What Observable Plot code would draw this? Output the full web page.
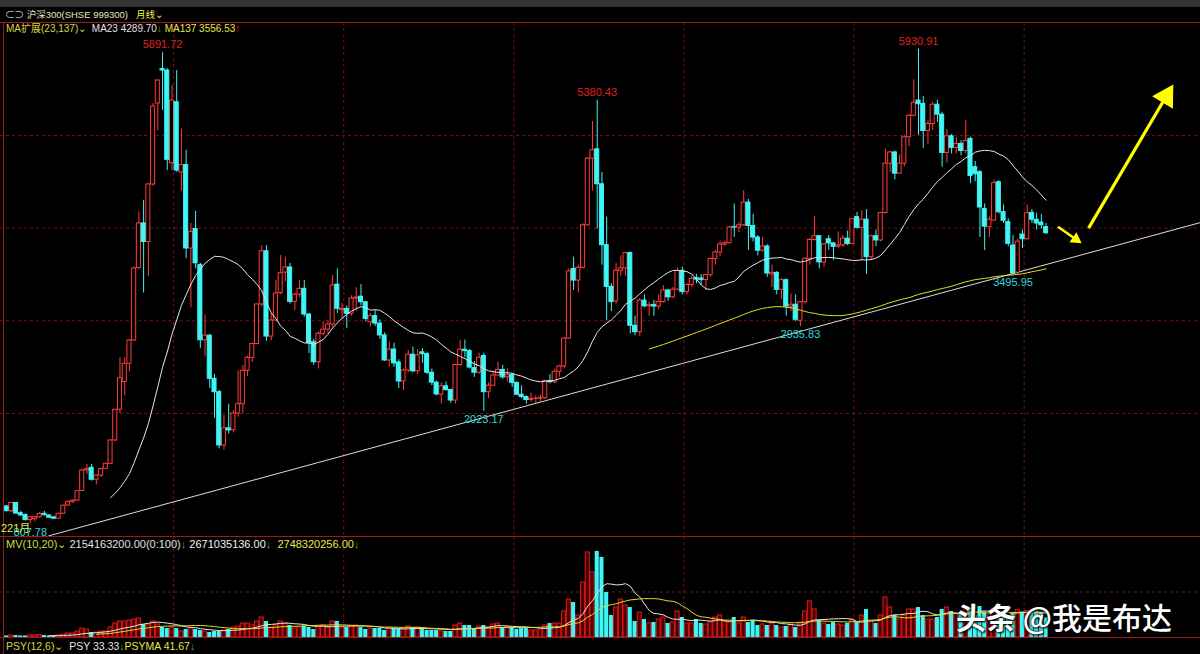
<!DOCTYPE html>
<html><head><meta charset="utf-8">
<script src="https://cdn.jsdelivr.net/npm/d3@7"></script>
<script src="https://cdn.jsdelivr.net/npm/@observablehq/plot@0.6"></script>
<style>
body{margin:0;background:#000;}
#wrap{position:relative;width:1200px;height:654px;overflow:hidden;background:#000;font-family:"Liberation Sans","Noto Sans CJK SC",sans-serif;font-size:11px;}
.abs{position:absolute;white-space:nowrap;line-height:12px;}
.plot{position:absolute;left:0;}
</style></head><body><div id="wrap"></div>
<script>
// CSI 300 monthly candles, 2005-01 .. 2023-05 (index 0 = 2005-01)
const startMonth = "2005-01";
const opens = [997,945,1035,925,905,850,860,880,918,900,880,865,
918,1007,1043,1060,1165,1385,1414,1285,1330,1403,1457,1709,
2041,2340,2536,2787,3570,4050,3850,4471,5344,5715,5700,4700,
5358,4600,4680,3780,3990,3600,2790,2840,2374,2230,1655,1840,
1820,2000,2100,2460,2600,2750,3176,3750,2830,3003,3300,3520,
3575,3204,3281,3345,3068,2769,2553,2860,2905,2960,3390,3115,
3128,3076,3240,3260,3200,2985,3050,2970,2842,2572,2690,2550,
2345,2464,2634,2455,2660,2640,2440,2333,2205,2293,2254,2140,
2523,2688,2673,2490,2440,2620,2230,2300,2410,2470,2390,2414,
2330,2203,2178,2146,2158,2160,2165,2350,2338,2450,2508,2808,
3560,3434,3572,4030,4749,4850,4473,3816,3366,3210,3540,3566,
3731,2946,2877,3218,3156,3169,3154,3203,3327,3253,3336,3538,
3310,3387,3460,3456,3439,3492,3666,3737,3822,3837,4010,4006,
4030,4275,4023,3898,3756,3802,3500,3517,3334,3438,3153,3173,
3000,3201,3669,3872,3913,3630,3880,3835,3799,3814,3886,3828,
4118,4003,4091,3686,3912,3867,4163,4695,4816,4587,4695,4980,
5211,5376,5340,5048,5123,5331,5224,4811,4990,4866,4908,4832,
4963,4657,4603,4207,4010,4082,4495,4172,4064,3812,3520,3930,
3880,4165,4090,4060,4010];
const highs = [1010,1040,1040,945,915,890,890,935,945,905,885,925,
1010,1060,1070,1170,1400,1450,1450,1340,1410,1465,1715,2045,
2600,2600,2800,3580,4175,4300,4480,5344,5600,5891.72,5720,5540,
5700,5070,4840,4050,4180,3620,3060,2850,2420,2250,1980,2100,
2030,2460,2520,2620,2760,3180,3812,3812,3079,3435,3704,3686,
3618,3300,3435,3435,3080,2800,2880,2990,3000,3489,3561,3190,
3160,3270,3359,3390,3210,3080,3111,3010,2870,2769,2760,2580,
2480,2680,2715,2690,2700,2660,2480,2350,2330,2340,2260,2530,
2790,2791,2690,2560,2650,2650,2330,2450,2553,2520,2480,2430,
2340,2300,2190,2220,2190,2200,2360,2420,2480,2520,2820,3560,
3686,3600,4046,4760,5150,5380.43,4600,4118,3400,3620,3700,3740,
3740,3050,3240,3280,3200,3220,3280,3380,3340,3360,3570,3580,
3400,3480,3500,3500,3500,3680,3760,3860,3860,4020,4260,4060,
4405,4310,4150,3920,3900,3820,3600,3530,3460,3450,3290,3280,
3210,3680,3890,4127,3920,3830,3920,3840,3960,3920,3970,4100,
4170,4190,4200,3920,3980,4170,4850,4830,4830,4790,5000,5230,
5600,5930.91,5420,5160,5360,5380,5250,5064,5010,4980,4940,5160,
4980,4720,4620,4260,4130,4520,4510,4250,4100,3920,3880,3980,
4250,4200,4160,4150,4050];
const lows = [940,930,915,890,840,807.78,830,870,895,870,855,860,
910,1000,1030,1055,1160,1340,1270,1230,1310,1395,1450,1700,
2000,2190,2450,2780,3550,3300,3480,4450,5050,5270,4621,4620,
4603,4400,3670,3140,3560,2700,2610,2270,1950,1619,1606,1780,
1790,1960,2000,2400,2550,2740,3150,2780,2787,2990,3280,3420,
3180,3111,3250,3040,2647,2520,2480,2840,2860,2930,3080,3020,
2917,3050,3100,3160,2990,2931,2940,2800,2560,2500,2500,2270,
2248,2440,2440,2420,2540,2420,2300,2190,2102,2240,2110,2102,
2510,2600,2480,2390,2420,2023.17,2160,2290,2400,2370,2340,2280,
2190,2160,2100,2120,2110,2120,2150,2320,2320,2390,2480,2800,
3327,3300,3560,4020,4400,3990,3600,3003,3100,3180,3480,3480,
2860,2840,2830,3140,3050,3050,3120,3190,3210,3240,3320,3280,
3280,3360,3400,3380,3330,3470,3600,3690,3800,3830,3900,3950,
4020,3760,3850,3700,3740,3470,3360,3280,3230,3050,3100,2990,
2935.83,3180,3600,3860,3560,3580,3760,3650,3780,3790,3810,3820,
3990,3650,3500,3650,3800,3850,4150,4600,4520,4580,4660,4880,
5200,5000,4860,4900,5050,5140,4657,4700,4800,4800,4780,4800,
4480,4500,3900,3757,3900,4070,4150,4050,3800,3495.95,3500,3780,
3870,4050,3980,3990,3930];
const closes = [946,1035,920,900,850,880,880,915,902,876,865,918,
1005,1043,1060,1162,1385,1400,1285,1330,1400,1457,1709,2040,
2380,2536,2787,3564,4050,3850,4471,5312,5592,5700,4737,5376,
4621,4680,3780,3960,3620,2790,2840,2374,2230,1655,1840,1817,
2000,2100,2460,2600,2750,3176,3750,2830,3003,3294,3513,3575,
3204,3281,3345,3068,2760,2553,2860,2905,2960,3380,3130,3128,
3076,3240,3250,3200,3020,3050,2970,2842,2572,2690,2540,2345,
2464,2634,2455,2626,2640,2440,2333,2205,2293,2254,2140,2523,
2688,2673,2496,2440,2600,2230,2300,2410,2470,2390,2414,2330,
2203,2178,2146,2158,2160,2165,2350,2338,2450,2508,2808,3533,
3434,3572,4030,4749,4840,4473,3816,3366,3202,3540,3566,3731,
2946,2877,3218,3156,3169,3154,3203,3327,3253,3336,3538,3310,
3387,3452,3445,3439,3492,3666,3737,3822,3837,4006,4006,4030,
4275,4023,3898,3756,3802,3510,3517,3334,3438,3153,3173,3011,
3201,3669,3872,3913,3630,3825,3835,3799,3814,3886,3828,4096,
4003,4091,3686,3912,3867,4163,4695,4816,4587,4695,4980,5211,
5351,5336,5048,5123,5331,5224,4811,4990,4866,4908,4832,4940,
4563,4581,4222,4016,4091,4485,4172,4079,3830,3509,3854,3880,
4160,4090,4050,4030,3945];
// monthly volume, units of 1e8 (lots)
const volumes = [1.7,2.2,2.2,1.7,1.7,2.2,2.2,2.8,2.2,1.7,1.7,2.2,
3.3,4.4,4.4,6.6,9.9,8.8,5.5,5.5,6.6,6.6,11,15.4,
17.6,17.6,18.7,19.8,20.9,14.3,13.2,17.6,14.3,11,9.9,11,
9.9,6.6,8.8,9.9,8.8,7.7,6.6,5.5,6.6,6.6,7.7,8.8,
11,12.1,15.4,15.4,13.2,17.6,22,17.6,11,13.2,17.6,15.4,
13.2,9.9,11,12.1,11,8.8,12.1,13.2,11,17.6,17.6,11,
11,12.1,13.2,11,8.8,9.9,9.9,9.9,7.7,9.9,9.9,8.8,
8.8,12.1,11,11,9.9,7.7,7.7,7.7,6.6,6.6,6.6,13.2,
15.4,13.2,13.2,9.9,12.1,13.2,11,14.3,15.4,11,12.1,11,
8.8,9.9,9.9,7.7,7.7,8.8,13.2,15.4,15.4,15.4,28.6,41.8,
38.5,24.2,60.5,93.5,71.5,94.6,88,49.5,24.2,33,41.8,35.2,
33,17.6,27.5,19.8,15.4,16.5,19.8,22,15.4,16.5,28.6,22,
15.4,15.4,19.8,15.4,14.3,16.5,22,24.2,17.6,16.5,22,15.4,
22,16.5,18.7,13.2,14.3,13.2,15.4,13.2,11,12.1,14.3,11,
16.5,28.6,39.6,30.8,18.7,15.4,14.3,16.5,14.3,13.2,15.4,19.8,
16.5,24.2,30.8,17.6,15.4,24.2,44,33,24.2,19.8,24.2,30.8,
30.8,33,24.2,19.8,19.8,22,30.8,33,28.6,26,27,30,
32,24,34,28,25,32,24.5,25,24,26,30,28,
29,27,29,27.6,21.54];
const priceGrid = [2000,3000,4000,5000];
const volGrid = [50];
const gridMonths = [35.35,71.35,107.35,143.35,179.35,215.35];
const highMarks = [33,125,193];
const lowMarks = [5,101,168,213];
const trendLine = [{i:8.9,p:680},{i:252.68,p:4060}];
// annotation arrows: shaft start -> head position (index, price), head rotation in degrees
const smallArrow = [{x1:222.5,y1:4015,x2:226.3,y2:3880,rot:125}];
const bigArrow = [{x1:229,y1:4000,x2:245.4,y2:5420,rot:31}];

const RED = "#ff3b3b", CYAN = "#3ff5f5", GRID = "#7a1212", BORDER = "#a01818", YEL = "#ffff00";
const X_DOMAIN = [-1.291, 252.68];
const rows = opens.map((o,i)=>({i, open:o, high:highs[i], low:lows[i], close:closes[i], vol:volumes[i], up: closes[i] >= o}));
const ups = rows.filter(d=>d.up), downs = rows.filter(d=>!d.up);
const W = 0.43;

const wrap = document.getElementById("wrap");

const main = Plot.plot({
  width:1200, height:540, marginTop:22, marginBottom:4, marginLeft:0, marginRight:0,
  style:{background:"transparent", overflow:"visible"},
  x:{domain:X_DOMAIN, axis:null},
  y:{domain:[673,6218], axis:null},
  marks:[
    Plot.ruleY(priceGrid, {stroke:GRID, strokeDasharray:"3,3"}),
    Plot.ruleX(gridMonths, {stroke:GRID, strokeDasharray:"3,3"}),
    Plot.line(trendLine, {x:"i", y:"p", stroke:"#dcdcdc", strokeWidth:1}),
    Plot.ruleX(ups, {x:"i", y1:"low", y2:"high", stroke:RED}),
    Plot.ruleX(downs, {x:"i", y1:"low", y2:"high", stroke:CYAN}),
    Plot.rect(ups, {x1:d=>d.i-W, x2:d=>d.i+W, y1:"open", y2:"close", fill:"#000", stroke:RED, strokeWidth:1}),
    Plot.rect(downs, {x1:d=>d.i-W, x2:d=>d.i+W, y1:"open", y2:"close", fill:CYAN, stroke:CYAN, strokeWidth:1}),
    Plot.lineY(rows, Plot.windowY({k:23, anchor:"end", strict:true}, {x:"i", y:"close", stroke:"#e6e6e6", strokeWidth:1})),
    Plot.lineY(rows, Plot.windowY({k:137, anchor:"end", strict:true}, {x:"i", y:"close", stroke:"#e0e020", strokeWidth:1})),
    Plot.text(highMarks.map(i=>rows[i]), {x:"i", y:"high", text:d=>d.high.toFixed(2), dy:-8, fill:"#e02020", fontSize:11, fontFamily:"Liberation Sans"}),
    Plot.text(lowMarks.map(i=>rows[i]), {x:"i", y:"low", text:d=>d.low.toFixed(2), dy:8, fill:"#30d8d8", fontSize:11, fontFamily:"Liberation Sans"}),
    Plot.link(smallArrow, {x1:"x1", y1:"y1", x2:"x2", y2:"y2", stroke:YEL, strokeWidth:2.5}),
    Plot.dot(smallArrow, {x:"x2", y:"y2", symbol:"triangle", r:4.5, rotate:"rot", fill:YEL, stroke:"none"}),
    Plot.link(bigArrow, {x1:"x1", y1:"y1", x2:"x2", y2:"y2", stroke:YEL, strokeWidth:3.2}),
    Plot.dot(bigArrow, {x:"x2", y:"y2", symbol:"triangle", r:9, rotate:"rot", fill:YEL, stroke:"none"})
  ]
});
main.classList.add("plot"); main.style.top = "0px";
wrap.appendChild(main);

const vol = Plot.plot({
  width:1200, height:102, marginTop:0, marginBottom:1, marginLeft:0, marginRight:0,
  style:{background:"transparent", overflow:"visible"},
  x:{domain:X_DOMAIN, axis:null},
  y:{domain:[0,111], axis:null},
  marks:[
    Plot.ruleY(volGrid, {stroke:GRID, strokeDasharray:"3,3"}),
    Plot.ruleX(gridMonths, {stroke:GRID, strokeDasharray:"3,3"}),
    Plot.rect(ups, {x1:d=>d.i-W, x2:d=>d.i+W, y1:0, y2:"vol", fill:"#4a0000", stroke:"#e01818", strokeWidth:1}),
    Plot.rect(downs, {x1:d=>d.i-W, x2:d=>d.i+W, y1:0, y2:"vol", fill:CYAN}),
    Plot.lineY(rows, Plot.windowY({k:10, anchor:"end", strict:true}, {x:"i", y:"vol", stroke:"#e6e6e6", strokeWidth:1})),
    Plot.lineY(rows, Plot.windowY({k:20, anchor:"end", strict:true}, {x:"i", y:"vol", stroke:"#e0e020", strokeWidth:1}))
  ]
});
vol.classList.add("plot"); vol.style.top = "536px";
wrap.appendChild(vol);

// frame lines
function line(l,t,w,h,c){const d=document.createElement("div");d.style.cssText=`position:absolute;left:${l}px;top:${t}px;width:${w}px;height:${h}px;background:${c}`;wrap.appendChild(d);}
line(0,0,1200,7,"#353535");
line(0,22,1200,1,BORDER);
line(0,536,1200,1,BORDER);
line(0,637,1200,1,BORDER);
line(3,22,1,632,BORDER);

function txt(l,t,parts,extra){const d=document.createElement("div");d.className="abs";d.style.left=l+"px";d.style.top=t+"px";if(extra)d.style.cssText+=extra;
  d.innerHTML=parts.map(([s,c,st])=>`<span style="color:${c};${st||""}">${s}</span>`).join("");wrap.appendChild(d);}
const Y="#e8e84a", G="#20c020", WH="#e0e0e0";
txt(5,9,[["⊂⊃ ","#c8c8c8"],["沪深300(SHSE 999300)","#e8e8b8"],["&nbsp;&nbsp;&nbsp;月线","#f0f050"],["⌄","#f0f050"]],"font-size:9.5px;");
txt(6,23,[["MA扩展(23,137)","#d8d840"],["⌄&nbsp;&nbsp;","#d8d840"],["MA23 4289.70",WH],["↓",G],[" MA137 3556.53",Y],["↑","#ff3030"]],"font-size:10px;");
txt(6,538,[["MV(10,20)","#d8d840"],["⌄&nbsp;","#d8d840"],["2154163200.00(0:100)",WH],["↓",G],["&nbsp;2671035136.00","#f0f0f0"],["↓",G],["&nbsp;&nbsp;2748320256.00",Y],["↓",G]]);
txt(6,640,[["PSY(12,6)","#d8d840"],["⌄&nbsp;&nbsp;","#d8d840"],["PSY 33.33",WH],["↓",G],["PSYMA 41.67",Y],["↓",G]],"font-size:10.5px;");
txt(1,522,[["221月","#e8e84a"]]);
txt(956,598,[["头条","#ffffff","font-weight:700;"],["&nbsp;@我是布达","#ffffff","font-weight:500;"]],"font-family:'Noto Sans CJK SC';font-size:30px;line-height:36px;text-shadow:0 0 3px #000,1px 1px 2px #000;");
</script></body></html>
